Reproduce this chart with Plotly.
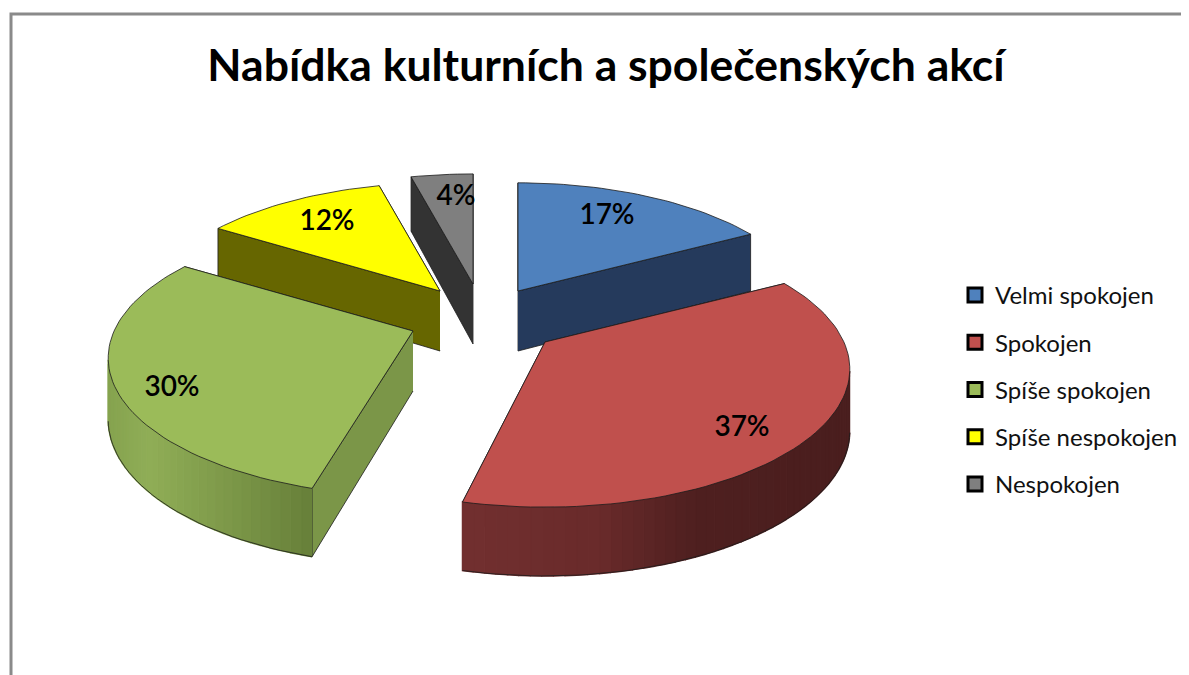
import numpy as np
import plotly.graph_objects as go

TITLE = "Nabídka kulturních a společenských akcí"
CATEGORIES = ["Velmi spokojen", "Spokojen", "Spíše spokojen", "Spíše nespokojen", "Nespokojen"]
VALUES = [17, 37, 30, 12, 4]

TOP_COLORS = ["#4f81bd", "#c0504d", "#9bbb59", "#ffff00", "#7f7f7f"]
SIDE_COLORS = ["#253a5c", "#6d2d2c", "#7b9648", "#666600", "#333333"]
RIM_STOPS = [
    [(0, "#253a5c"), (1, "#253a5c")],
    [(0, "#723030"), (0.35, "#6a2b2b"), (0.6, "#4f2020"), (1, "#4a1e1e")],
    [(0, "#86a34f"), (0.2, "#90ae57"), (0.65, "#7a9547"), (1, "#67803a")],
    [(0, "#666600"), (1, "#666600")],
    [(0, "#333333"), (1, "#333333")],
]
# Exploded wedge tips and projection of the 3-D pie (layout, not data)
APEX = [(518, 291), (545, 342), (413, 331), (440, 291), (473, 284)]
RADIUS_SCALE = [0.95, 0.98, 0.98, 0.95, 0.97]
# Small view-distortion corrections of the wedge edges, in degrees (start, end)
EDGE_SKEW = [(0, 0), (0, -1.5), (1.5, 0), (0, 0), (0, 0)]
LABEL_OFFSET = [(89, -74), (197, 87), (-241, 58), (-113, -68), (-17, -86)]
RX, RY, PERSP, DEPTH = 305.0, 135.5, 0.2, 60.0
DEPTH_PERSP = 0.6
DRAW_ORDER = [4, 3, 0, 2, 1]
# The page has an 8 px body margin, so the axes start there
PAGE_MARGIN = 8
WIN_W, WIN_H = 1189, 675


def proj(apex, theta, r, z):
    Y = -r * np.cos(theta)
    X = r * np.sin(theta)
    s = 1 / (1 - PERSP * Y)
    return apex[0] + X * RX * s, apex[1] + Y * RY * s + z * DEPTH * (1 + DEPTH_PERSP * (s - 1))


def mix(stops, t):
    ts = [a for a, _ in stops]
    rgb = [[int(c[i:i + 2], 16) for i in (1, 3, 5)] for _, c in stops]
    return "rgb(%d,%d,%d)" % tuple(np.interp(t, ts, [p[k] for p in rgb]) for k in range(3))


def poly(xs, ys, fill, line, width=0.8):
    return go.Scatter(x=list(xs), y=list(ys), mode="lines", fill="toself", fillcolor=fill,
                      line=dict(color=line, width=width), hoverinfo="skip", showlegend=False)


fig = go.Figure()
cum = np.cumsum([0] + VALUES) / sum(VALUES) * 2 * np.pi
OUT = "#1c1c1c"

for i in DRAW_ORDER:
    a0 = cum[i] + np.radians(EDGE_SKEW[i][0])
    a1 = cum[i + 1] + np.radians(EDGE_SKEW[i][1])
    ap, rs = APEX[i], RADIUS_SCALE[i]
    th = np.linspace(a0, a1, max(int(VALUES[i] * 2), 8) + 1)
    # radial faces, the one further back first
    for a in sorted((a0, a1), key=lambda v: -np.cos(v)):
        px = [proj(ap, a, 0, 0), proj(ap, a, rs, 0), proj(ap, a, rs, 1), proj(ap, a, 0, 1)]
        fig.add_trace(poly([p[0] for p in px], [p[1] for p in px], SIDE_COLORS[i], OUT))
    # curved rim with a left-to-right shade: only the part that faces the viewer
    top = [proj(ap, t, rs, 0) for t in th]
    xlo, xhi = min(p[0] for p in top), max(p[0] for p in top)
    front = [t for t in th if -np.cos(t) >= PERSP * 0.9]
    if len(front) > 1:
        ftop = [proj(ap, t, rs, 0) for t in front]
        fbot = [proj(ap, t, rs, 1) for t in front]
        for j in range(len(front) - 1):
            xm = (ftop[j][0] + ftop[j + 1][0]) / 2
            col = mix(RIM_STOPS[i], (xm - xlo) / max(xhi - xlo, 1))
            fig.add_trace(poly([ftop[j][0], ftop[j + 1][0], fbot[j + 1][0], fbot[j][0]],
                               [ftop[j][1], ftop[j + 1][1], fbot[j + 1][1], fbot[j][1]], col, col, 1.5))
        fig.add_trace(go.Scatter(x=[p[0] for p in fbot], y=[p[1] for p in fbot], mode="lines",
                                 line=dict(color=OUT, width=0.8), hoverinfo="skip", showlegend=False))
    # top face
    xs = [ap[0]] + [p[0] for p in top] + [ap[0]]
    ys = [ap[1]] + [p[1] for p in top] + [ap[1]]
    fig.add_trace(poly(xs, ys, TOP_COLORS[i], OUT))

# data labels
fig.add_trace(go.Scatter(
    x=[APEX[i][0] + LABEL_OFFSET[i][0] for i in range(5)],
    y=[APEX[i][1] + LABEL_OFFSET[i][1] for i in range(5)],
    mode="text", text=[f"{v}%" for v in VALUES],
    textfont=dict(family="Lato", size=28, color="#000000", weight=600),
    textposition="middle center", hoverinfo="skip", showlegend=False))

# legend
for name, col in zip(CATEGORIES, TOP_COLORS):
    fig.add_trace(go.Scatter(x=[None], y=[None], mode="markers", name=name, legendgroup=name,
                             marker=dict(symbol="square", size=14, color=col,
                                         line=dict(color="#000000", width=3))))

W, H = WIN_W - PAGE_MARGIN, WIN_H - PAGE_MARGIN


def paper_x(px):
    return (px - PAGE_MARGIN) / W


def paper_y(py):
    return 1 - (py - PAGE_MARGIN) / H


fig.update_layout(
    width=W, height=H, margin=dict(l=0, r=0, t=0, b=0),
    paper_bgcolor="#ffffff", plot_bgcolor="#ffffff",
    xaxis=dict(range=[PAGE_MARGIN, WIN_W], visible=False, fixedrange=True),
    yaxis=dict(range=[WIN_H, PAGE_MARGIN], visible=False, fixedrange=True),
    title=dict(text=f"<b>{TITLE}</b>", x=paper_x(606), y=paper_y(65), xanchor="center", yanchor="middle",
               font=dict(family="Lato", size=44.5, color="#000000")),
    legend=dict(x=paper_x(955), y=paper_y(273), xanchor="left", yanchor="top", tracegroupgap=13,
                bgcolor="rgba(0,0,0,0)", font=dict(family="Lato", size=24, color="#111111")),
    shapes=[dict(type="path", path=f"M 11 {WIN_H} L 11 14 L {WIN_W} 14", xref="x", yref="y",
                 line=dict(color="#8a8a8a", width=3))],
)
fig.write_html("out.html")
